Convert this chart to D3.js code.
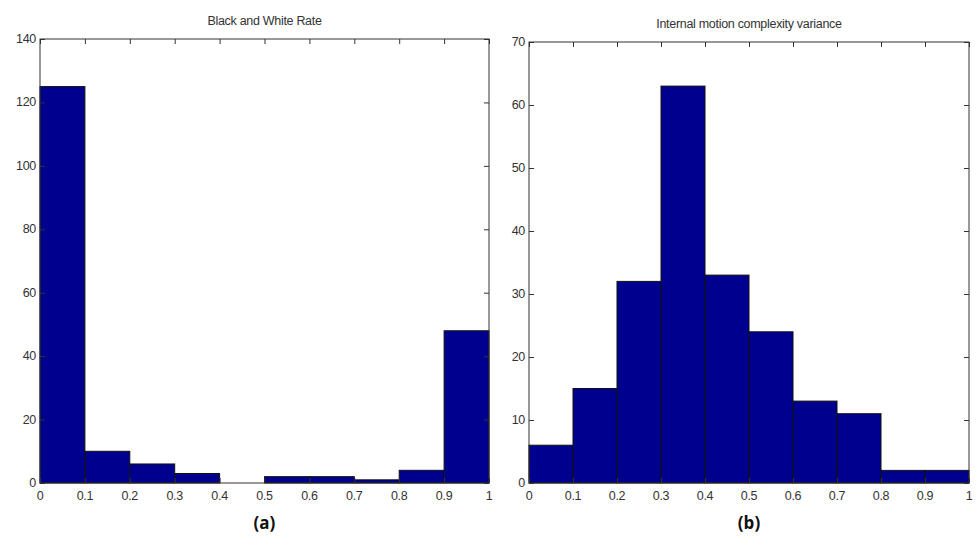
<!DOCTYPE html>
<html lang="en">
  <head>
    <meta charset="utf-8">
    <title>Histograms</title>
    <script src="https://d3js.org/d3.v7.min.js"></script>
    <style>
      body { margin: 0; background: white; }
    </style>
  </head>
  <body>
    <script type="text/javascript">
      // bin edges shared by both histograms
      const binEdges = [0, 0.1, 0.2, 0.3, 0.4, 0.5, 0.6, 0.7, 0.8, 0.9, 1];
      const xTicks = [0, 0.1, 0.2, 0.3, 0.4, 0.5, 0.6, 0.7, 0.8, 0.9, 1];

      const countsA = [125, 10, 6, 3, 0, 2, 2, 1, 4, 48];
      const yTicksA = [0, 20, 40, 60, 80, 100, 120, 140];
      const titleA = "Black and White Rate";
      const captionA = "(a)";

      const countsB = [6, 15, 32, 63, 33, 24, 13, 11, 2, 2];
      const yTicksB = [0, 10, 20, 30, 40, 50, 60, 70];
      const titleB = "Internal motion complexity variance";
      const captionB = "(b)";

      const svgWidth = 979;
      const svgHeight = 542;
      const font = "'Liberation Sans', Arial, sans-serif";
      const barColor = "#00008f";
      const axisColor = "#333";
      const tickLen = 5;

      var svg = d3.select("body")
        .append("svg")
        .attr("width", svgWidth)
        .attr("height", svgHeight);

      function drawHist(box, counts, yTicks, title, caption) {
        var g = svg.append("g");

        var xScale = d3.scaleLinear()
          .domain([0, 1])
          .range([box.left, box.right]);

        var yScale = d3.scaleLinear()
          .domain([0, d3.max(yTicks)])
          .range([box.bottom, box.top]);

        var bins = counts.map((c, i) => ({x0: binEdges[i], x1: binEdges[i + 1], count: c}));

        g.append("g")
          .selectAll("rect")
          .data(bins)
          .enter()
          .append("rect")
          .attr("x", d => xScale(d.x0))
          .attr("y", d => yScale(d.count))
          .attr("width", d => xScale(d.x1) - xScale(d.x0))
          .attr("height", d => yScale(0) - yScale(d.count))
          .attr("fill", barColor)
          .attr("stroke", d => d.count === 0 ? "#888" : "#111")
          .attr("stroke-width", 1);

        // inward ticks on all four sides, matlab style
        var bottom = g.append("g")
          .attr("transform", "translate(0," + box.bottom + ")")
          .call(d3.axisTop(xScale).tickValues(xTicks).tickSize(tickLen).tickFormat(""));
        var top = g.append("g")
          .attr("transform", "translate(0," + box.top + ")")
          .call(d3.axisBottom(xScale).tickValues(xTicks).tickSize(tickLen).tickFormat(""));
        var left = g.append("g")
          .attr("transform", "translate(" + box.left + ",0)")
          .call(d3.axisRight(yScale).tickValues(yTicks).tickSize(tickLen).tickFormat(""));
        var right = g.append("g")
          .attr("transform", "translate(" + box.right + ",0)")
          .call(d3.axisLeft(yScale).tickValues(yTicks).tickSize(tickLen).tickFormat(""));

        [bottom, top, left, right].forEach(a => {
          a.select(".domain").remove();
          a.selectAll("line").attr("stroke", axisColor);
        });

        g.append("rect")
          .attr("x", box.left)
          .attr("y", box.top)
          .attr("width", box.right - box.left)
          .attr("height", box.bottom - box.top)
          .attr("fill", "none")
          .attr("stroke", axisColor)
          .attr("stroke-width", 1);

        g.append("g")
          .selectAll("text")
          .data(xTicks)
          .enter()
          .append("text")
          .attr("x", d => xScale(d))
          .attr("y", box.bottom + 17)
          .style("text-anchor", "middle")
          .attr("font-family", font)
          .attr("font-size", "12.5px")
          .attr("letter-spacing", "-0.3px")
          .attr("fill", "#333")
          .text(d => d);

        g.append("g")
          .selectAll("text")
          .data(yTicks)
          .enter()
          .append("text")
          .attr("x", box.left - 4)
          .attr("y", d => yScale(d) + 4)
          .style("text-anchor", "end")
          .attr("font-family", font)
          .attr("font-size", "12.5px")
          .attr("letter-spacing", "-0.3px")
          .attr("fill", "#333")
          .text(d => d);

        g.append("text")
          .attr("x", (box.left + box.right) / 2)
          .attr("y", box.top - 14)
          .style("text-anchor", "middle")
          .attr("font-family", font)
          .attr("font-size", "12.5px")
          .attr("letter-spacing", "-0.3px")
          .attr("fill", "#333")
          .text(title);

        g.append("text")
          .attr("x", (box.left + box.right) / 2)
          .attr("y", box.bottom + 46)
          .style("text-anchor", "middle")
          .attr("font-family", "'Open Sans', sans-serif")
          .attr("font-weight", "bold")
          .attr("font-size", "17px")
          .attr("fill", "#111")
          .text(caption);
      }

      drawHist({left: 40, right: 489, top: 39, bottom: 483}, countsA, yTicksA, titleA, captionA);
      drawHist({left: 529, right: 969, top: 42, bottom: 483}, countsB, yTicksB, titleB, captionB);
    </script>
  </body>
</html>
